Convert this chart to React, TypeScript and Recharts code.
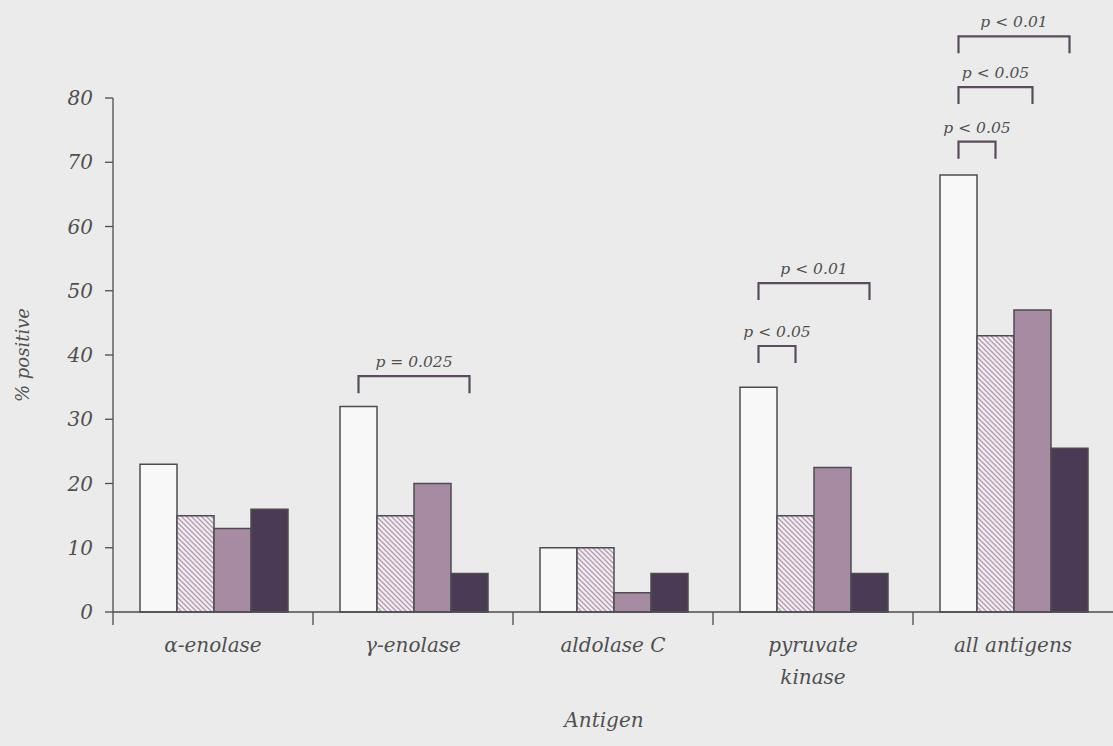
import { BarChart, Bar, XAxis, YAxis } from 'recharts';

const categories = ['α-enolase', 'γ-enolase', 'aldolase C', 'pyruvate kinase', 'all antigens'];
const groupA = [23, 32, 10, 35, 68];
const groupB = [15, 15, 10, 15, 43];
const groupC = [13, 20, 3, 22.5, 47];
const groupD = [16, 6, 6, 6, 25.5];
const yTicks = [0, 10, 20, 30, 40, 50, 60, 70, 80];

// significance brackets: bar index within the group (0..3) and height in % units
const brackets = [
  { category: 'γ-enolase', from: 0, to: 3, level: 36.7, text: 'p = 0.025' },
  { category: 'pyruvate kinase', from: 0, to: 1, level: 41.4, text: 'p < 0.05' },
  { category: 'pyruvate kinase', from: 0, to: 3, level: 51.2, text: 'p < 0.01' },
  { category: 'all antigens', from: 0, to: 1, level: 73.2, text: 'p < 0.05' },
  { category: 'all antigens', from: 0, to: 2, level: 81.7, text: 'p < 0.05' },
  { category: 'all antigens', from: 0, to: 3, level: 89.6, text: 'p < 0.01' },
];

const data = categories.map((name, i) => ({
  name,
  a: groupA[i],
  b: groupB[i],
  c: groupC[i],
  d: groupD[i],
}));

const FONT = '"DejaVu Serif", serif';
const TEXT = '#505050';
const OUTLINE = '#4d4d4d';

function AntigenTick(props: any) {
  const { x, y, payload, width, visibleTicksCount } = props;
  const band = width / visibleTicksCount;
  const lines = String(payload.value) === 'pyruvate kinase' ? ['pyruvate', 'kinase'] : [String(payload.value)];
  const left = x - band / 2;
  return (
    <g>
      <line x1={left} y1={y} x2={left} y2={y + 13} stroke={OUTLINE} strokeWidth={1.3} />
      <text
        x={x}
        y={y + 40}
        textAnchor="middle"
        fontFamily={FONT}
        fontStyle="italic"
        fontSize={20}
        fill={TEXT}
      >
        {lines.map((l, i) => (
          <tspan key={l} x={x} dy={i === 0 ? 0 : 32}>
            {l}
          </tspan>
        ))}
      </text>
    </g>
  );
}

function renderBrackets(props: any) {
  const x = Number(props.x);
  const y = Number(props.y);
  const w = Number(props.width);
  const h = Number(props.height);
  const value = Number(props.value);
  const cat = categories[props.index];
  const base = y + h;
  const perUnit = h / value;
  const items = brackets.filter((b) => b.category === cat);
  if (!items.length) return null;
  return (
    <g>
      {items.map((b) => {
        const x1 = x + w * (b.from + 0.5);
        const x2 = x + w * (b.to + 0.5);
        const top = base - b.level * perUnit;
        return (
          <g key={b.text + b.to}>
            <path
              d={`M${x1},${top + 17} L${x1},${top} L${x2},${top} L${x2},${top + 17}`}
              fill="none"
              stroke="#5a4c5e"
              strokeWidth={2.2}
            />
            <text
              x={(x1 + x2) / 2}
              y={top - 9}
              textAnchor="middle"
              fontFamily={FONT}
              fontStyle="italic"
              fontSize={15.5}
              fill={TEXT}
            >
              {b.text}
            </text>
          </g>
        );
      })}
    </g>
  );
}

export default function App() {
  return (
    <div
      style={{
        position: 'fixed',
        left: 0,
        top: 0,
        width: 1113,
        height: 746,
        background: '#ebebeb',
      }}
    >
      <BarChart
        width={1113}
        height={746}
        data={data}
        margin={{ top: 98, right: 0, bottom: 0, left: 0 }}
        barCategoryGap={27}
        barGap={0}
      >
        <defs>
          <pattern id="hatch" width={5} height={5} patternUnits="userSpaceOnUse">
            <rect width={5} height={5} fill="#f1ecf1" />
            <path d="M-1,-1 L6,6 M-1,4 L1,6 M4,-1 L6,1" stroke="#b39cb1" strokeWidth={1.3} />
          </pattern>
        </defs>
        <XAxis
          dataKey="name"
          height={134}
          axisLine={{ stroke: OUTLINE, strokeWidth: 1.3 }}
          tickLine={false}
          tickSize={0}
          tickMargin={0}
          tick={<AntigenTick />}
          interval={0}
          label={{
            content: (p: any) => {
              const vb = p.viewBox;
              return (
                <text
                  x={vb.x + vb.width / 2 - 9}
                  y={vb.y + 115}
                  textAnchor="middle"
                  fontFamily={FONT}
                  fontStyle="italic"
                  fontSize={20}
                  fill={TEXT}
                >
                  Antigen
                </text>
              );
            },
          }}
        />
        <YAxis
          width={113}
          domain={[0, 80]}
          ticks={yTicks}
          interval={0}
          axisLine={{ stroke: OUTLINE, strokeWidth: 1.3 }}
          tickLine={{ stroke: OUTLINE, strokeWidth: 1.3 }}
          tickSize={8}
          tickMargin={12}
          tick={{ fontFamily: FONT, fontStyle: 'italic', fontSize: 20, fill: TEXT }}
          label={{
            content: (p: any) => {
              const vb = p.viewBox;
              const cx = vb.x + 22;
              const cy = vb.y + vb.height / 2;
              return (
                <text
                  x={cx}
                  y={cy}
                  transform={`rotate(-90 ${cx} ${cy})`}
                  textAnchor="middle"
                  dominantBaseline="central"
                  fontFamily={FONT}
                  fontStyle="italic"
                  fontSize={18}
                  fill={TEXT}
                >
                  % positive
                </text>
              );
            },
          }}
        />
        <Bar
          dataKey="a"
          fill="#f8f8f8"
          stroke={OUTLINE}
          strokeWidth={1.5}
          isAnimationActive={false}
          label={renderBrackets}
        />
        <Bar dataKey="b" fill="url(#hatch)" stroke={OUTLINE} strokeWidth={1.5} isAnimationActive={false} />
        <Bar dataKey="c" fill="#a68ba3" stroke={OUTLINE} strokeWidth={1.5} isAnimationActive={false} />
        <Bar dataKey="d" fill="#4a3a56" stroke={OUTLINE} strokeWidth={1.5} isAnimationActive={false} />
      </BarChart>
    </div>
  );
}
